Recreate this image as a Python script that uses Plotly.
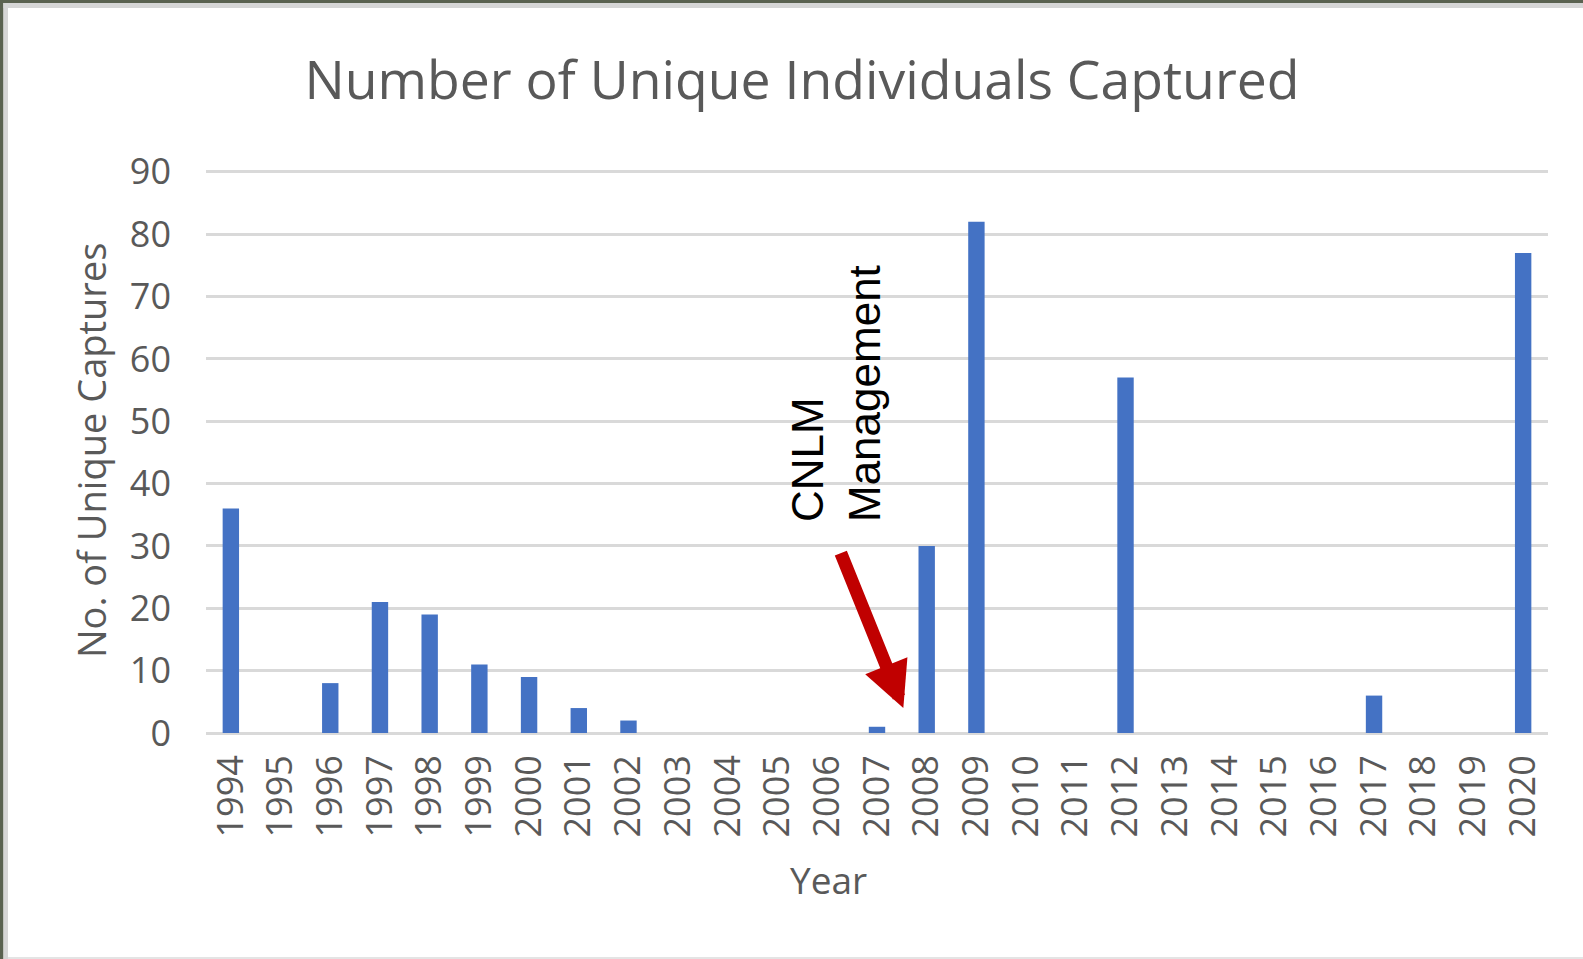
import plotly.graph_objects as go

# ---- data ----
years = [str(y) for y in range(1994, 2021)]
captures = [36, 0, 8, 21, 19, 11, 9, 4, 2, 0, 0, 0, 0, 1, 30, 82, 0, 0, 57, 0, 0, 0, 0, 6, 0, 0, 77]
chart_title = "Number of Unique Individuals Captured"
y_title = "No. of Unique Captures"
x_title = "Year"
note_text = "CNLM<br>Management"

W, H = 1583, 959
L, R, T, B = 206, 35, 170, 226
PW, PH = W - L - R, H - T - B
YMAX = 90.3


def px(p):
    return (p - L) / PW


def py(p):
    return (H - B - p) / PH


GRAY = "#595959"
FONT = "Open Sans"

fig = go.Figure()
fig.add_trace(go.Bar(x=years, y=captures, marker=dict(color="#4472C4", line=dict(width=0))))

fig.update_layout(
    width=W, height=H, autosize=False,
    margin=dict(l=L, r=R, t=T, b=B),
    paper_bgcolor="white", plot_bgcolor="white",
    bargap=0.67, showlegend=False,
    title=dict(text=chart_title, font=dict(family=FONT, size=53.5, color=GRAY),
               xref="container", x=802 / W, xanchor="center",
               yref="container", y=1 - 80 / H, yanchor="middle"),
)
fig.update_yaxes(range=[0, YMAX], tickvals=list(range(0, 91, 10)), showgrid=True,
                 gridcolor="#d9d9d9", gridwidth=2.5,
                 zeroline=True, zerolinecolor="#d9d9d9", zerolinewidth=2.5, showline=False,
                 tickfont=dict(family=FONT, size=36, color=GRAY), ticks="", ticklabelstandoff=34)
fig.update_xaxes(type="category", tickangle=-90, showgrid=False, showline=False,
                 tickfont=dict(family=FONT, size=36, color=GRAY), ticks="", ticklabelstandoff=14)

# axis titles
fig.add_annotation(text=y_title, textangle=-90, xref="paper", yref="paper",
                   x=px(91), y=py(450), xanchor="center", yanchor="middle", showarrow=False,
                   font=dict(family=FONT, size=38, color=GRAY))
fig.add_annotation(text=x_title, xref="paper", yref="paper",
                   x=px(828), y=py(879), xanchor="center", yanchor="middle", showarrow=False,
                   font=dict(family=FONT, size=37, color=GRAY))

# CNLM note
fig.add_annotation(text=note_text, textangle=-90, align="left", xref="paper", yref="paper",
                   x=px(836), y=py(394), xanchor="center", yanchor="middle", showarrow=False,
                   font=dict(family="Liberation Sans, Arial", size=44, color="black"))
# red arrow
fig.add_annotation(text="", xref="x", yref="y", axref="x", ayref="y",
                   x=13.53, y=4.0, ax=12.26, ay=29.1, showarrow=True,
                   arrowhead=2, arrowsize=0.7, arrowwidth=13, arrowcolor="#C00000")

# frame (photo edge + grey border)
photo = "#5a6250"
frame = "#d6d6d6"
shapes = [
    dict(x0=px(0), x1=px(W), y0=py(0), y1=py(3), color=photo),
    dict(x0=px(0), x1=px(3.5), y0=py(0), y1=py(H), color=photo),
    dict(x0=px(3.5), x1=px(W), y0=py(3), y1=py(8), color=frame),
    dict(x0=px(3.5), x1=px(8), y0=py(3), y1=py(H), color=frame),
    dict(x0=px(8), x1=px(W), y0=py(957), y1=py(H), color="#e4e4e4"),
]
for s in shapes:
    fig.add_shape(type="rect", xref="paper", yref="paper", x0=s["x0"], x1=s["x1"],
                  y0=s["y0"], y1=s["y1"], fillcolor=s["color"], line=dict(width=0), layer="above")

fig.write_html("out.html", config={"displayModeBar": False},
               post_script="document.body.style.margin='0';document.body.style.overflow='hidden';")
